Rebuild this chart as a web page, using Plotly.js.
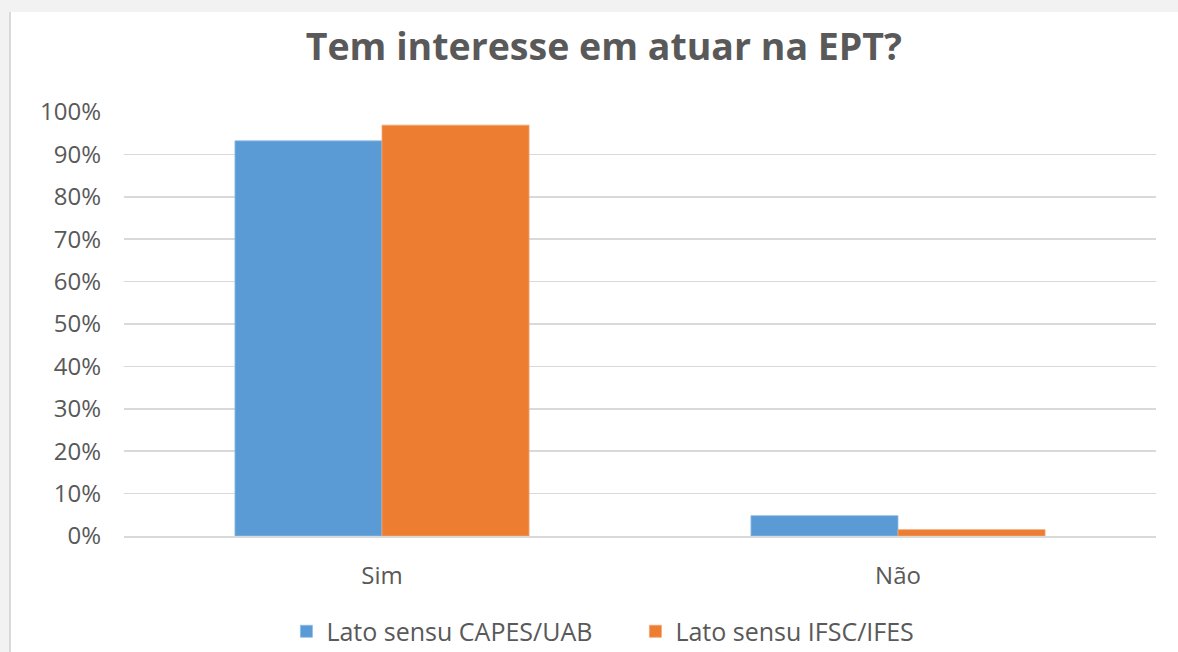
<!DOCTYPE html>
<html>
<head>
<meta charset="utf-8">
<script src="https://cdn.plot.ly/plotly-3.0.1.min.js"></script>
<style>
html,body{margin:0;padding:0;background:#f2f2f2;width:1178px;height:652px;overflow:hidden;}
#frame{position:absolute;left:9px;top:12px;width:2px;height:640px;background:#d9d9d9;}
#chart{position:absolute;left:11px;top:12px;width:1167px;height:640px;background:#fff;}
</style>
</head>
<body>
<div id="frame"></div>
<div id="chart"></div>
<script>
var categories = ["Sim", "Não"];
var seriesNames = ["Lato sensu CAPES/UAB", "Lato sensu IFSC/IFES"];
var capesUab = [0.932, 0.048];
var ifscIfes = [0.969, 0.015];
var yTickVals = [0, 0.1, 0.2, 0.3, 0.4, 0.5, 0.6, 0.7, 0.8, 0.9, 1.0];
var yTickText = ["0%", "10%", "20%", "30%", "40%", "50%", "60%", "70%", "80%", "90%", "100%"];
var titleText = "Tem interesse em atuar na EPT?";

var FONT = "Open Sans, Liberation Sans, sans-serif";
var traces = [
  {type: "bar", name: seriesNames[0], x: categories, y: capesUab,
   marker: {color: "#5B9BD5", line: {color: "#8fbbe3", width: 0.8}}},
  {type: "bar", name: seriesNames[1], x: categories, y: ifscIfes,
   marker: {color: "#ED7D31", line: {color: "#f3a572", width: 0.8}}}
];
var layout = {
  width: 1167, height: 640,
  margin: {l: 113, r: 22, t: 100, b: 116},
  paper_bgcolor: "#ffffff", plot_bgcolor: "#ffffff",
  barmode: "group", bargap: 0.43, bargroupgap: 0,
  font: {family: FONT, color: "#595959", size: 24},
  title: {text: "<b>" + titleText + "</b>", font: {family: FONT, size: 37.5, color: "#595959"},
          x: 0.508, xanchor: "center", y: 0.945, yanchor: "middle", xref: "container", yref: "container"},
  xaxis: {showgrid: false, showline: true, linecolor: "#d9d9d9", linewidth: 1.5, ticks: "",
          tickfont: {size: 24, color: "#595959"}, ticklabelstandoff: 18},
  yaxis: {range: [0, 1.0], tickvals: yTickVals, ticktext: yTickText, showgrid: true,
          gridcolor: "#d9d9d9", gridwidth: 1.5, zeroline: false, showline: false, ticks: "",
          tickfont: {size: 24, color: "#595959"}, ticklabelstandoff: 22},
  showlegend: true,
  legend: {orientation: "h", xref: "container", yref: "container", x: 0.236, xanchor: "left",
           y: 0.032, yanchor: "middle", font: {size: 25, color: "#595959"}, itemwidth: 30,
           entrywidth: 304, entrywidthmode: "pixels", traceorder: "normal"}
};
Plotly.newPlot("chart", traces, layout, {displayModeBar: false, staticPlot: true});
</script>
</body>
</html>
